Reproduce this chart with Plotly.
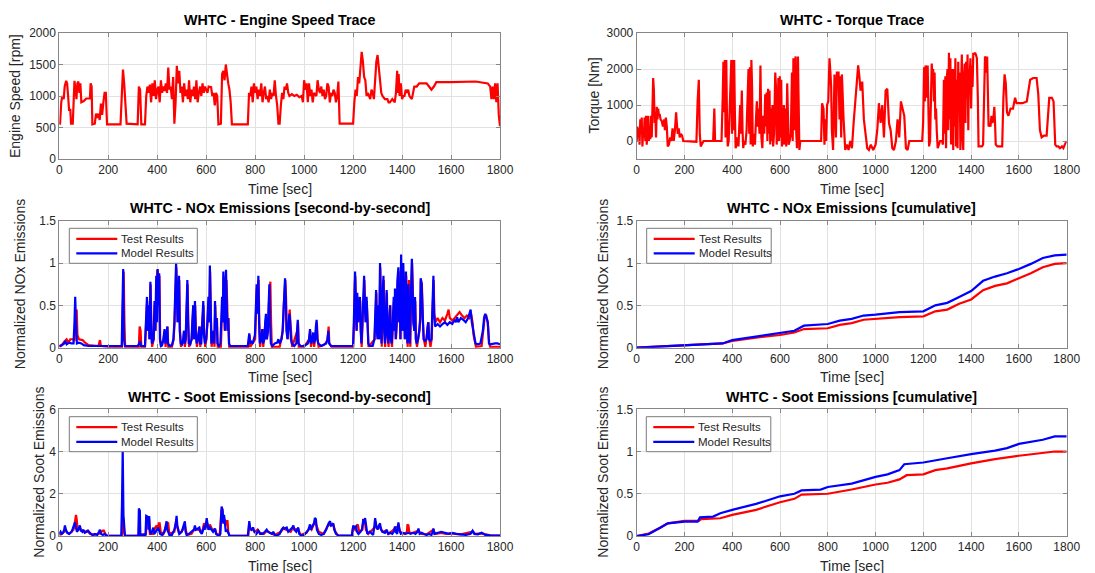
import plotly.graph_objects as go

# ---------------- data ----------------
speed_t = [0, 3, 8, 12, 18, 22, 28, 32, 36, 40, 45, 48, 55, 58, 62, 66, 70, 74, 78, 82,
           86, 90, 100, 110, 125, 128, 132, 135, 145, 150, 155, 160, 165, 170, 175, 180, 185, 190, 195, 250,
           255, 260, 265, 270, 275, 320, 325, 330, 335, 350, 355, 360, 365, 370, 375, 380, 385, 390, 395, 400,
           405, 410, 415, 420, 425, 430, 435, 440, 445, 450, 455, 460, 465, 470, 475, 480, 485, 490, 495, 500,
           505, 510, 515, 520, 525, 530, 535, 540, 545, 550, 555, 560, 565, 570, 575, 580, 585, 590, 595, 600,
           605, 610, 620, 625, 630, 635, 640, 645, 650, 660, 665, 670, 675, 680, 685, 690, 695, 700, 705, 770,
           775, 780, 785, 790, 795, 800, 805, 810, 815, 820, 825, 830, 835, 840, 845, 850, 855, 860, 865, 870,
           875, 880, 885, 890, 895, 900, 905, 910, 915, 920, 925, 930, 935, 940, 950, 960, 970, 980, 990, 995,
           1000, 1005, 1010, 1015, 1020, 1025, 1030, 1035, 1040, 1050, 1055, 1060, 1065, 1070, 1075, 1080, 1085, 1090, 1095, 1100,
           1105, 1110, 1115, 1120, 1125, 1130, 1135, 1140, 1145, 1200, 1205, 1210, 1215, 1220, 1225, 1230, 1235, 1240, 1245, 1250,
           1255, 1260, 1265, 1270, 1275, 1280, 1285, 1290, 1295, 1300, 1305, 1310, 1315, 1320, 1330, 1340, 1345, 1350, 1360, 1370,
           1375, 1380, 1383, 1386, 1390, 1395, 1400, 1405, 1410, 1415, 1420, 1425, 1430, 1440, 1450, 1460, 1470, 1490, 1500, 1510,
           1520, 1530, 1540, 1600, 1700, 1750, 1760, 1765, 1770, 1775, 1780, 1785, 1790, 1795, 1800]
speed_rpm = [550, 560, 900, 1000, 950, 1150, 1240, 1200, 1000, 780, 780, 560, 560, 900, 1240, 1100, 950, 1200, 1230, 1050,
             1200, 900, 920, 960, 960, 1200, 1150, 550, 560, 720, 650, 720, 620, 880, 700, 900, 1050, 1050, 550, 550,
             900, 1420, 1200, 900, 560, 550, 1150, 1100, 550, 550, 1000, 1150, 1050, 1180, 900, 1200, 1000, 1250, 950, 1100,
             1150, 900, 1250, 1050, 1150, 1080, 1200, 1050, 1450, 1100, 1150, 950, 1300, 560, 900, 1480, 1200, 1400, 1050, 1150,
             900, 1200, 1000, 1100, 950, 1250, 900, 1100, 1000, 1150, 950, 1250, 900, 1050, 1150, 1000, 1200, 1050, 1150, 1100,
             1050, 1150, 1140, 1000, 1050, 850, 1050, 1000, 550, 560, 1350, 1400, 1250, 1500, 1300, 1200, 1100, 900, 550, 550,
             1050, 1000, 1150, 900, 1200, 1050, 1150, 950, 1100, 1000, 1200, 900, 1050, 1150, 950, 1000, 900, 1100, 950, 1050,
             1000, 1250, 1000, 850, 560, 560, 850, 1050, 950, 1150, 1100, 1200, 1050, 1000, 1030, 1000, 1020, 980, 1000, 900,
             1250, 1100, 1200, 900, 1200, 1000, 1100, 900, 1050, 1000, 1250, 1100, 1050, 1150, 1000, 1100, 950, 1000, 1200, 1150,
             900, 1050, 1000, 1100, 1050, 900, 1000, 1230, 560, 560, 900, 1100, 1000, 1300, 1200, 1500, 1700, 1550, 1300, 1250,
             1000, 1050, 1000, 950, 1100, 1050, 950, 1300, 1550, 1650, 1400, 1200, 1050, 1000, 950, 950, 900, 900, 950, 900,
             1050, 1400, 1050, 1350, 1000, 1200, 950, 1000, 1000, 1100, 1050, 1100, 1000, 950, 1150, 1150, 1200, 1200, 1200, 1150,
             1100, 1150, 1220, 1220, 1230, 1200, 1150, 950, 1150, 950, 1200, 900, 1200, 700, 520]

torque_t = [0, 3, 6, 9, 12, 15, 18, 21, 24, 27, 30, 33, 36, 39, 42, 45, 48, 51, 54, 57,
            60, 63, 66, 69, 72, 75, 78, 81, 84, 87, 90, 93, 96, 100, 105, 110, 115, 118, 122, 126,
            130, 135, 140, 145, 150, 155, 160, 165, 168, 172, 176, 180, 185, 190, 195, 250, 255, 260, 264, 268,
            272, 280, 320, 325, 328, 355, 360, 363, 366, 369, 372, 375, 378, 381, 385, 390, 393, 396, 399, 402,
            405, 408, 411, 414, 418, 422, 426, 430, 433, 436, 440, 443, 446, 450, 455, 460, 465, 468, 471, 474,
            477, 480, 483, 486, 490, 495, 500, 503, 506, 510, 514, 518, 522, 526, 530, 534, 538, 541, 544, 547,
            550, 553, 556, 559, 562, 565, 568, 571, 575, 580, 583, 586, 590, 593, 596, 599, 602, 605, 608, 612,
            616, 619, 623, 626, 630, 633, 636, 640, 645, 650, 653, 656, 659, 662, 665, 668, 671, 675, 678, 681,
            685, 772, 776, 782, 786, 789, 793, 797, 802, 807, 811, 814, 817, 822, 828, 834, 838, 845, 849, 852,
            856, 859, 866, 873, 880, 887, 894, 901, 908, 915, 922, 927, 932, 937, 944, 951, 958, 965, 972, 980,
            990, 1000, 1007, 1014, 1021, 1028, 1035, 1042, 1049, 1056, 1063, 1070, 1077, 1085, 1092, 1099, 1106, 1113, 1120, 1127,
            1134, 1141, 1195, 1199, 1203, 1206, 1209, 1212, 1215, 1218, 1221, 1224, 1228, 1232, 1235, 1238, 1241, 1244, 1247, 1250,
            1253, 1256, 1260, 1265, 1270, 1278, 1282, 1286, 1289, 1292, 1295, 1298, 1301, 1304, 1307, 1310, 1313, 1316, 1319, 1322,
            1325, 1328, 1331, 1334, 1337, 1340, 1343, 1346, 1349, 1352, 1355, 1358, 1361, 1364, 1367, 1370, 1373, 1376, 1379, 1382,
            1385, 1388, 1391, 1394, 1397, 1400, 1403, 1406, 1409, 1412, 1416, 1420, 1424, 1428, 1431, 1436, 1445, 1450, 1455, 1458,
            1461, 1464, 1467, 1470, 1473, 1477, 1481, 1485, 1489, 1493, 1497, 1500, 1503, 1510, 1520, 1530, 1535, 1540, 1545, 1550,
            1556, 1565, 1575, 1584, 1590, 1600, 1615, 1633, 1640, 1647, 1660, 1674, 1681, 1688, 1695, 1705, 1716, 1723, 1727, 1738,
            1745, 1752, 1758, 1765, 1772, 1780, 1786, 1792, 1800]
torque_nm = [0, 400, 100, 350, -100, 600, 200, 650, -150, 300, 100, 650, 0, 700, -100, 200, 700, 0, 400, 50,
             700, 100, 800, 1750, 1400, 500, 800, 100, 950, 600, 900, 700, 750, 600, 550, 400, 600, 300, 650, 400,
             -150, -100, 100, 0, 350, 0, 300, 800, 500, 200, 350, 100, 200, 150, 0, -20, 1100, 1700, 200, -150,
             -100, 0, 0, 900, 0, 0, 1200, 2200, 800, 2250, 100, 2250, 600, -150, 0, 900, 1800, 2250, 200, 2250,
             300, 2250, 800, -200, -100, 100, -150, 900, 1000, 200, 1400, 300, -200, 0, -100, 300, 1300, 2000, 200, 2050,
             -100, 2250, 1500, -150, 200, -100, 700, 1100, 400, 900, 200, 2100, 100, -200, 700, 200, 1300, 400, 1350, 0,
             1450, 200, 1400, -100, 900, 0, 1000, -150, 200, 1900, 1500, -100, 500, 1750, 0, 1800, 100, 1700, -150, 0,
             1000, -100, 900, -150, 1600, 100, -100, 0, 200, 1900, 0, 2300, 300, 1900, 2350, 200, -200, 2350, 400, -250,
             0, 0, 1050, 900, -100, 600, 0, 1000, 1100, 2300, 1900, 1500, 300, -250, 1850, 100, 1900, 1900, 600, 1800,
             100, 1850, 600, -250, -100, -250, 0, -200, 500, 1200, 1900, 2100, 1800, 1400, 1650, 600, 200, -200, -250, -100,
             -250, -100, 300, 1050, 500, 1000, 100, 1400, 1450, 500, 300, -200, -250, 0, 600, 100, 1100, 900, 700, -200,
             -250, 0, 0, 500, 2050, 1100, 2100, 1900, 1200, 2100, 400, -150, 0, 1000, 2150, 1800, 2000, 1100, 1900, 600,
             900, 300, -200, -100, 0, 0, -100, 1700, 200, 1800, -200, 1700, 2000, 300, 2450, 600, 2300, -100, 2000, 1200,
             -250, 2000, 400, 2300, -150, 1700, -200, 2200, 800, 1900, -250, 1500, 2400, 100, -250, 1800, 2150, 500, 2200, 1200,
             2400, 300, 2000, 1800, 2300, 900, 2100, 1500, 2450, 2400, 2450, 2400, 2300, 1200, -150, -150, -150, -100, 1500, 2350,
             2300, 1900, 2350, 1200, 400, 500, 400, 700, 500, 600, 950, 500, -100, -150, -150, -150, 1200, 1850, 1600, 800,
             700, 900, 900, 1200, 1050, 1050, 1050, 1100, 1400, 1700, 1750, 1750, 1300, 300, 100, 150, 150, 700, 1200, 1200,
             1100, -100, -150, -150, -200, -150, -200, -100, 0]

nox_test_t = [0, 10, 20, 30, 38, 45, 55, 62, 67, 71, 74, 80, 95, 105, 120, 160, 166, 170, 200, 256,
              260, 263, 266, 269, 325, 328, 332, 335, 350, 355, 359, 362, 366, 369, 373, 376, 379, 386, 390, 393,
              397, 400, 403, 409, 412, 416, 426, 431, 434, 438, 442, 445, 460, 467, 471, 474, 478, 481, 484, 487,
              490, 493, 497, 507, 510, 513, 517, 521, 524, 527, 530, 541, 545, 548, 551, 555, 558, 562, 567, 570,
              573, 576, 585, 589, 592, 596, 601, 606, 610, 613, 616, 619, 622, 631, 634, 637, 640, 644, 647, 660,
              663, 666, 669, 671, 674, 677, 680, 683, 686, 688, 691, 694, 772, 777, 780, 800, 803, 807, 810, 814,
              817, 820, 830, 833, 842, 845, 848, 853, 856, 859, 862, 865, 868, 900, 913, 917, 920, 923, 926, 929,
              933, 937, 941, 944, 947, 951, 972, 975, 978, 1000, 1021, 1025, 1028, 1038, 1041, 1049, 1052, 1055, 1059, 1080,
              1090, 1096, 1100, 1103, 1112, 1200, 1204, 1207, 1209, 1212, 1215, 1218, 1221, 1225, 1229, 1232, 1235, 1239, 1242, 1246,
              1249, 1252, 1256, 1259, 1263, 1288, 1292, 1295, 1298, 1301, 1304, 1307, 1311, 1314, 1317, 1321, 1325, 1328, 1331, 1335,
              1338, 1341, 1345, 1348, 1352, 1355, 1359, 1363, 1367, 1370, 1372, 1375, 1379, 1382, 1386, 1389, 1392, 1394, 1397, 1400,
              1403, 1406, 1409, 1412, 1415, 1417, 1420, 1423, 1425, 1428, 1431, 1434, 1437, 1441, 1444, 1447, 1451, 1454, 1457, 1461,
              1471, 1475, 1477, 1481, 1485, 1489, 1495, 1505, 1508, 1511, 1516, 1521, 1525, 1529, 1532, 1536, 1545, 1555, 1565, 1575,
              1585, 1590, 1595, 1605, 1615, 1625, 1635, 1645, 1655, 1665, 1675, 1682, 1688, 1692, 1697, 1702, 1725, 1732, 1738, 1744,
              1750, 1756, 1760, 1800]
nox_test = [0.01, 0.03, 0.07, 0.10, 0.06, 0.10, 0.10, 0.08, 0.25, 0.45, 0.15, 0.10, 0.09, 0.06, 0.03, 0.02, 0.09, 0.02, 0.01, 0.01,
            0.50, 0.90, 0.30, 0.01, 0.01, 0.25, 0.20, 0.01, 0.01, 0.30, 0.55, 0.20, 0.50, 0.10, 0.75, 0.30, 0.01, 0.10, 0.50, 0.20,
            0.85, 0.92, 0.50, 0.85, 0.10, 0.01, 0.10, 0.20, 0.01, 0.10, 0.25, 0.01, 0.01, 0.10, 0.30, 0.62, 0.95, 0.60, 0.30, 0.50,
            0.80, 0.20, 0.01, 0.10, 0.20, 0.01, 0.10, 0.50, 0.75, 0.30, 0.01, 0.10, 0.35, 0.50, 0.10, 0.50, 0.20, 0.01, 0.10, 0.20,
            0.25, 0.01, 0.30, 0.50, 0.15, 0.01, 0.10, 0.30, 0.55, 0.30, 0.90, 0.40, 0.01, 0.20, 0.01, 0.50, 0.20, 0.35, 0.01, 0.01,
            0.40, 0.55, 0.30, 0.85, 0.50, 0.20, 0.70, 0.80, 0.50, 0.20, 0.35, 0.01, 0.01, 0.15, 0.01, 0.10, 0.40, 0.70, 0.40, 0.80,
            0.30, 0.01, 0.22, 0.01, 0.30, 0.35, 0.10, 0.20, 0.50, 0.78, 0.78, 0.30, 0.01, 0.01, 0.20, 0.50, 0.70, 0.80, 0.60, 0.20,
            0.10, 0.30, 0.45, 0.30, 0.10, 0.01, 0.20, 0.30, 0.01, 0.01, 0.10, 0.20, 0.01, 0.15, 0.01, 0.25, 0.30, 0.10, 0.01, 0.03,
            0.06, 0.10, 0.25, 0.05, 0.01, 0.01, 0.30, 0.75, 0.85, 0.50, 0.20, 0.60, 0.30, 0.50, 0.55, 0.20, 0.01, 0.30, 0.65, 0.80,
            0.50, 0.30, 0.55, 0.20, 0.01, 0.10, 0.40, 0.65, 0.20, 0.10, 0.45, 0.10, 0.95, 0.30, 0.01, 0.60, 0.80, 0.20, 0.01, 0.40,
            0.65, 0.15, 0.01, 0.30, 0.50, 0.10, 0.01, 0.30, 0.55, 0.20, 0.65, 0.10, 0.30, 0.75, 0.90, 0.30, 0.55, 0.10, 1.00, 0.40,
            0.20, 0.90, 0.30, 0.10, 0.60, 0.85, 0.20, 0.01, 0.50, 0.80, 0.20, 0.01, 0.60, 1.00, 0.70, 0.30, 0.20, 0.55, 0.10, 0.01,
            0.20, 0.35, 0.80, 0.75, 0.30, 0.10, 0.01, 0.25, 0.30, 0.10, 0.01, 0.10, 0.50, 0.80, 0.40, 0.30, 0.35, 0.30, 0.35, 0.32,
            0.40, 0.45, 0.35, 0.32, 0.35, 0.38, 0.42, 0.38, 0.35, 0.38, 0.35, 0.40, 0.30, 0.15, 0.05, 0.01, 0.02, 0.25, 0.38, 0.38,
            0.30, 0.05, 0.01, 0.01]

nox_model_t = [0, 10, 20, 25, 30, 40, 50, 58, 62, 65, 68, 72, 80, 90, 100, 120, 200, 255, 258, 261,
               264, 268, 320, 327, 330, 334, 350, 354, 358, 361, 365, 368, 372, 375, 378, 385, 389, 392, 396, 399,
               402, 405, 408, 411, 415, 420, 425, 430, 433, 437, 441, 444, 450, 460, 466, 470, 474, 477, 480, 483,
               486, 489, 492, 496, 502, 506, 509, 512, 516, 520, 523, 526, 529, 535, 540, 544, 547, 550, 554, 557,
               561, 566, 569, 572, 575, 580, 584, 588, 591, 595, 600, 605, 609, 612, 615, 618, 621, 626, 630, 633,
               636, 639, 643, 646, 652, 658, 662, 665, 668, 670, 673, 676, 679, 681, 684, 687, 690, 693, 698, 770,
               773, 776, 779, 785, 790, 795, 799, 802, 806, 809, 813, 816, 819, 825, 829, 832, 838, 841, 844, 847,
               852, 855, 858, 861, 864, 870, 880, 890, 895, 900, 908, 912, 916, 919, 922, 925, 928, 932, 936, 940,
               943, 946, 950, 960, 968, 971, 974, 977, 985, 995, 1005, 1015, 1020, 1024, 1027, 1033, 1037, 1040, 1045, 1048,
               1051, 1054, 1058, 1070, 1080, 1090, 1095, 1099, 1102, 1110, 1160, 1200, 1203, 1206, 1208, 1211, 1214, 1217, 1220, 1224,
               1228, 1231, 1234, 1238, 1241, 1245, 1248, 1251, 1255, 1258, 1262, 1268, 1280, 1287, 1291, 1294, 1297, 1300, 1303, 1306,
               1310, 1313, 1316, 1320, 1324, 1327, 1330, 1334, 1337, 1340, 1344, 1347, 1351, 1354, 1358, 1362, 1366, 1369, 1371, 1374,
               1378, 1381, 1385, 1388, 1391, 1393, 1396, 1399, 1402, 1405, 1408, 1411, 1414, 1416, 1419, 1422, 1424, 1426, 1429, 1432,
               1436, 1440, 1443, 1446, 1450, 1453, 1456, 1460, 1465, 1470, 1474, 1476, 1480, 1484, 1488, 1494, 1500, 1504, 1507, 1510,
               1515, 1520, 1524, 1528, 1531, 1535, 1545, 1555, 1565, 1575, 1585, 1595, 1605, 1615, 1620, 1625, 1630, 1640, 1650, 1660,
               1670, 1680, 1685, 1690, 1695, 1700, 1710, 1720, 1730, 1735, 1740, 1745, 1750, 1755, 1760, 1780, 1790, 1800]
nox_model = [0.02, 0.03, 0.05, 0.08, 0.04, 0.06, 0.05, 0.05, 0.30, 0.60, 0.30, 0.05, 0.06, 0.05, 0.03, 0.02, 0.02, 0.02, 0.50, 0.93,
             0.10, 0.02, 0.02, 0.05, 0.08, 0.02, 0.02, 0.30, 0.60, 0.20, 0.50, 0.10, 0.78, 0.30, 0.05, 0.10, 0.55, 0.20, 0.85, 0.30,
             0.93, 0.50, 0.88, 0.10, 0.02, 0.03, 0.10, 0.22, 0.05, 0.10, 0.25, 0.05, 0.02, 0.03, 0.10, 0.30, 0.60, 1.00, 0.70, 0.30,
             0.50, 0.85, 0.20, 0.05, 0.04, 0.10, 0.20, 0.05, 0.10, 0.50, 0.80, 0.30, 0.05, 0.04, 0.10, 0.35, 0.50, 0.10, 0.55, 0.20,
             0.05, 0.10, 0.20, 0.25, 0.05, 0.05, 0.30, 0.55, 0.15, 0.05, 0.10, 0.30, 0.60, 0.30, 0.97, 0.40, 0.05, 0.10, 0.20, 0.05,
             0.55, 0.20, 0.35, 0.05, 0.02, 0.05, 0.40, 0.60, 0.30, 0.90, 0.50, 0.20, 0.70, 0.92, 0.50, 0.20, 0.35, 0.05, 0.02, 0.02,
             0.10, 0.17, 0.05, 0.07, 0.05, 0.10, 0.15, 0.40, 0.75, 0.40, 0.85, 0.30, 0.05, 0.10, 0.22, 0.05, 0.10, 0.30, 0.40, 0.10,
             0.20, 0.50, 0.75, 0.30, 0.05, 0.02, 0.05, 0.06, 0.10, 0.05, 0.10, 0.20, 0.50, 0.70, 0.82, 0.60, 0.20, 0.10, 0.30, 0.40,
             0.30, 0.10, 0.05, 0.02, 0.05, 0.20, 0.33, 0.05, 0.02, 0.02, 0.03, 0.05, 0.10, 0.22, 0.05, 0.10, 0.18, 0.05, 0.10, 0.25,
             0.33, 0.10, 0.05, 0.02, 0.04, 0.05, 0.10, 0.20, 0.05, 0.02, 0.02, 0.02, 0.30, 0.80, 0.90, 0.50, 0.20, 0.65, 0.30, 0.50,
             0.60, 0.20, 0.05, 0.30, 0.70, 0.85, 0.50, 0.30, 0.60, 0.20, 0.05, 0.02, 0.02, 0.10, 0.40, 0.68, 0.20, 0.10, 0.50, 0.10,
             1.00, 0.30, 0.05, 0.60, 0.85, 0.20, 0.05, 0.40, 0.68, 0.15, 0.05, 0.30, 0.50, 0.10, 0.05, 0.30, 0.60, 0.20, 0.70, 0.10,
             0.30, 0.80, 0.95, 0.30, 0.60, 0.10, 1.10, 0.40, 0.20, 1.00, 0.30, 0.10, 0.60, 0.90, 0.20, 0.05, 0.50, 0.75, 0.20, 0.05,
             0.60, 1.05, 0.70, 0.30, 0.20, 0.60, 0.10, 0.05, 0.10, 0.20, 0.35, 0.82, 0.75, 0.30, 0.10, 0.08, 0.10, 0.25, 0.30, 0.10,
             0.08, 0.10, 0.50, 0.85, 0.40, 0.25, 0.28, 0.25, 0.28, 0.30, 0.27, 0.30, 0.28, 0.33, 0.30, 0.36, 0.30, 0.35, 0.33, 0.30,
             0.35, 0.45, 0.30, 0.20, 0.10, 0.05, 0.04, 0.05, 0.20, 0.35, 0.40, 0.35, 0.30, 0.05, 0.04, 0.05, 0.05, 0.04]

soot_test_t = [0, 10, 20, 25, 30, 40, 50, 58, 62, 66, 68, 71, 75, 85, 95, 105, 115, 125, 140, 160,
               170, 176, 182, 188, 195, 255, 259, 262, 265, 268, 324, 327, 330, 354, 357, 363, 367, 370, 385, 392,
               398, 402, 406, 410, 414, 425, 437, 441, 445, 449, 470, 478, 482, 490, 505, 512, 516, 522, 540, 553,
               560, 570, 578, 586, 591, 595, 600, 605, 610, 615, 620, 625, 637, 642, 655, 662, 666, 670, 675, 680,
               683, 687, 690, 695, 772, 776, 780, 790, 800, 810, 820, 835, 848, 860, 880, 905, 915, 925, 935, 945,
               955, 965, 975, 985, 1010, 1022, 1030, 1040, 1045, 1050, 1060, 1080, 1095, 1105, 1112, 1120, 1128, 1140, 1196, 1200,
               1208, 1215, 1219, 1225, 1238, 1242, 1248, 1252, 1262, 1288, 1292, 1296, 1305, 1312, 1320, 1335, 1345, 1370, 1386, 1392,
               1410, 1420, 1422, 1426, 1430, 1445, 1465, 1480, 1500, 1528, 1535, 1560, 1580, 1600, 1640, 1688, 1700, 1725, 1760, 1800]
soot_test = [0.05, 0.10, 0.20, 0.30, 0.20, 0.10, 0.20, 0.30, 0.50, 0.80, 1.00, 0.80, 0.30, 0.35, 0.25, 0.20, 0.25, 0.10, 0.05, 0.10,
             0.15, 0.25, 0.25, 0.10, 0.01, 0.01, 0.50, 0.80, 0.20, 0.01, 0.01, 1.20, 0.05, 0.10, 0.85, 0.85, 0.80, 0.10, 0.10, 0.40,
             0.50, 0.30, 0.60, 0.60, 0.20, 0.10, 0.50, 0.65, 0.60, 0.10, 0.20, 0.80, 0.40, 0.10, 0.30, 0.60, 0.30, 0.05, 0.10, 0.35,
             0.30, 0.30, 0.20, 0.30, 0.60, 0.55, 0.45, 0.50, 0.30, 0.55, 0.40, 0.30, 0.30, 0.10, 0.05, 1.20, 1.30, 0.60, 0.80, 0.50,
             0.70, 0.70, 0.20, 0.01, 0.01, 0.60, 0.30, 0.30, 0.20, 0.30, 0.15, 0.10, 0.25, 0.15, 0.05, 0.20, 0.35, 0.30, 0.25, 0.20,
             0.40, 0.30, 0.35, 0.05, 0.15, 0.40, 0.30, 0.60, 0.70, 0.50, 0.20, 0.10, 0.45, 0.55, 0.50, 0.50, 0.20, 0.01, 0.01, 0.40,
             0.30, 0.50, 0.55, 0.20, 0.30, 0.75, 0.70, 0.30, 0.10, 0.40, 0.70, 0.40, 0.40, 0.40, 0.20, 0.25, 0.10, 0.35, 0.50, 0.20,
             0.10, 0.20, 0.55, 0.50, 0.15, 0.15, 0.25, 0.10, 0.08, 0.30, 0.10, 0.15, 0.10, 0.12, 0.08, 0.20, 0.10, 0.12, 0.03, 0.02]

soot_model_t = [0, 5, 10, 15, 20, 23, 27, 32, 40, 50, 55, 60, 64, 68, 72, 78, 84, 88, 94, 98,
                104, 112, 118, 125, 135, 145, 155, 162, 166, 170, 178, 185, 192, 200, 253, 256, 259, 262, 265, 268,
                323, 325, 329, 331, 352, 355, 362, 364, 367, 370, 375, 380, 384, 388, 395, 400, 404, 408, 412, 420,
                430, 435, 438, 441, 445, 450, 460, 470, 476, 479, 482, 486, 490, 500, 505, 510, 513, 516, 520, 530,
                540, 550, 554, 558, 565, 572, 576, 582, 588, 592, 596, 602, 605, 610, 615, 620, 628, 636, 640, 646,
                652, 658, 661, 663, 667, 670, 673, 676, 680, 685, 690, 695, 770, 773, 776, 779, 785, 792, 796, 805,
                813, 820, 830, 840, 847, 852, 860, 868, 874, 880, 890, 900, 908, 915, 920, 929, 935, 945, 952, 956,
                960, 968, 976, 980, 990, 1000, 1010, 1018, 1024, 1028, 1035, 1040, 1044, 1048, 1052, 1060, 1070, 1080, 1090, 1095,
                1100, 1106, 1110, 1115, 1119, 1123, 1130, 1140, 1195, 1198, 1201, 1206, 1212, 1216, 1222, 1230, 1236, 1242, 1245, 1249,
                1253, 1258, 1268, 1275, 1282, 1287, 1290, 1294, 1300, 1306, 1310, 1314, 1320, 1330, 1337, 1343, 1350, 1360, 1366, 1371,
                1375, 1380, 1385, 1389, 1395, 1405, 1415, 1425, 1435, 1445, 1455, 1463, 1467, 1472, 1480, 1490, 1500, 1510, 1520, 1525,
                1528, 1532, 1545, 1560, 1575, 1590, 1605, 1620, 1640, 1660, 1680, 1688, 1695, 1710, 1725, 1740, 1760, 1780, 1800]
soot_model = [0.10, 0.20, 0.10, 0.15, 0.30, 0.50, 0.30, 0.15, 0.10, 0.20, 0.35, 0.50, 0.65, 0.40, 0.20, 0.30, 0.50, 0.25, 0.20, 0.30,
              0.15, 0.20, 0.25, 0.15, 0.05, 0.10, 0.05, 0.20, 0.30, 0.10, 0.05, 0.10, 0.02, 0.01, 0.01, 1.50, 4.10, 1.00, 0.10, 0.01,
              0.01, 1.30, 1.20, 0.05, 0.05, 0.95, 0.90, 0.30, 0.95, 0.20, 0.10, 0.30, 0.40, 0.10, 0.20, 0.30, 0.40, 0.20, 0.10, 0.05,
              0.20, 0.50, 0.70, 0.30, 0.20, 0.05, 0.05, 0.30, 0.60, 0.95, 0.50, 0.30, 0.10, 0.20, 0.40, 0.50, 0.70, 0.20, 0.05, 0.10,
              0.20, 0.30, 0.50, 0.30, 0.35, 0.40, 0.20, 0.10, 0.30, 0.50, 0.30, 0.85, 0.60, 0.30, 0.40, 0.30, 0.20, 0.35, 0.10, 0.05,
              0.02, 0.10, 1.00, 1.40, 1.20, 0.60, 1.00, 0.40, 0.20, 0.30, 0.10, 0.02, 0.01, 0.50, 0.70, 0.40, 0.30, 0.40, 0.20, 0.10,
              0.25, 0.10, 0.10, 0.20, 0.30, 0.20, 0.15, 0.10, 0.20, 0.05, 0.02, 0.10, 0.30, 0.40, 0.35, 0.40, 0.20, 0.30, 0.40, 0.50,
              0.30, 0.20, 0.40, 0.10, 0.02, 0.05, 0.20, 0.30, 0.55, 0.30, 0.50, 0.60, 0.85, 0.80, 0.30, 0.10, 0.05, 0.10, 0.30, 0.50,
              0.60, 0.70, 0.50, 0.55, 0.60, 0.30, 0.10, 0.02, 0.02, 0.30, 0.50, 0.40, 0.45, 0.20, 0.10, 0.20, 0.30, 0.80, 0.60, 0.85,
              0.40, 0.10, 0.20, 0.10, 0.05, 0.50, 0.85, 0.50, 0.30, 0.50, 0.60, 0.30, 0.20, 0.15, 0.30, 0.10, 0.15, 0.10, 0.20, 0.45,
              0.20, 0.10, 0.65, 0.30, 0.10, 0.15, 0.10, 0.15, 0.10, 0.15, 0.10, 0.20, 0.35, 0.10, 0.15, 0.10, 0.05, 0.10, 0.05, 0.20,
              0.35, 0.10, 0.15, 0.20, 0.15, 0.10, 0.15, 0.10, 0.08, 0.05, 0.10, 0.25, 0.10, 0.08, 0.15, 0.05, 0.03, 0.04, 0.02]

cum_nox_t = [0, 200, 360, 400, 500, 600, 660, 700, 800, 850, 900, 950, 1000, 1100, 1200,
             1250, 1300, 1350, 1400, 1450, 1500, 1550, 1600, 1650, 1700, 1750, 1800]
cum_nox_test = [0, 0.03, 0.05, 0.08, 0.12, 0.15, 0.18, 0.22, 0.23, 0.27, 0.29, 0.33, 0.34, 0.36, 0.37,
                0.43, 0.45, 0.52, 0.57, 0.68, 0.73, 0.76, 0.82, 0.88, 0.95, 0.99, 1.00]
cum_nox_model = [0, 0.03, 0.05, 0.09, 0.13, 0.17, 0.20, 0.26, 0.28, 0.32, 0.34, 0.38, 0.39, 0.42, 0.43,
                 0.50, 0.53, 0.60, 0.67, 0.79, 0.84, 0.88, 0.93, 0.99, 1.06, 1.09, 1.10]

cum_soot_t_test = [0, 50, 100, 130, 200, 260, 270, 350, 400, 500, 600, 660, 690, 800, 900,
                   1000, 1050, 1100, 1130, 1200, 1250, 1300, 1400, 1500, 1600, 1700, 1750, 1800]
cum_soot_test = [0, 0.03, 0.10, 0.15, 0.18, 0.18, 0.20, 0.21, 0.25, 0.31, 0.40, 0.44, 0.49, 0.50, 0.55,
                 0.61, 0.63, 0.67, 0.72, 0.73, 0.78, 0.80, 0.86, 0.91, 0.95, 0.98, 1.00, 1.00]
cum_soot_t_model = [0, 50, 100, 130, 200, 255, 265, 320, 350, 400, 500, 600, 660, 690, 770, 800,
                    900, 1000, 1050, 1080, 1100, 1120, 1200, 1300, 1400, 1500, 1550, 1600, 1700, 1750, 1800]
cum_soot_model = [0, 0.02, 0.10, 0.15, 0.17, 0.17, 0.22, 0.23, 0.27, 0.31, 0.38, 0.47, 0.50, 0.54, 0.55, 0.58,
                  0.62, 0.70, 0.73, 0.76, 0.78, 0.85, 0.87, 0.92, 0.97, 1.01, 1.04, 1.09, 1.14, 1.18, 1.18]

time_ticks = list(range(0, 1801, 200))
series_names = ["Test Results", "Model Results"]

# ---------------- layout helpers ----------------
W, H = 1095, 573
FONT = "Liberation Sans, Arial, Helvetica, sans-serif"
TXT = "#262626"
RED, BLUE = "#ff0000", "#0000ff"
LW = 2.2

# panel frames in pixels: left, top, right, bottom
frames = [
    (59.3, 33.0, 500.0, 159.0),     # engine speed
    (636.7, 33.0, 1066.7, 159.0),   # torque
    (59.3, 220.7, 500.0, 347.7),    # NOx second-by-second
    (636.7, 220.7, 1066.7, 347.7),  # NOx cumulative
    (59.3, 409.3, 500.0, 536.0),    # soot second-by-second
    (636.7, 409.3, 1066.7, 536.0),  # soot cumulative
]
titles = ["WHTC - Engine Speed Trace", "WHTC - Torque Trace",
          "WHTC - NOx Emissions [second-by-second]", "WHTC - NOx Emissions [cumulative]",
          "WHTC - Soot Emissions [second-by-second]", "WHTC - Soot Emissions [cumulative]"]
ylabels = ["Engine Speed [rpm]", "Torque [Nm]", "Normalized NOx Emissions", "Normalized NOx Emissions",
           "Normalized Soot Emissions", "Normalized Soot Emissions"]
ylabel_x = [15, 593.5, 20, 603, 39, 603]
yranges = [(0, 2000), (-500, 3000), (0, 1.5), (0, 1.5), (0, 6), (0, 1.5)]
yticks = [[0, 500, 1000, 1500, 2000], [0, 1000, 2000, 3000], [0, 0.5, 1, 1.5], [0, 0.5, 1, 1.5],
          [0, 2, 4, 6], [0, 0.5, 1, 1.5]]
# legend boxes (left, top, width) for the emission panels
legend_boxes = [(69.3, 228.3, 128), (646.7, 228.3, 124.5), (69.3, 416.7, 128), (646.3, 416.7, 124.5)]


def px_x(x):
    return x / W


def px_y(y):
    return 1 - y / H


fig = go.Figure()
annotations, shapes = [], []

axis_common = dict(showline=True, mirror="ticks", linecolor="#868686", linewidth=1,
                   showgrid=True, gridcolor="#e2e2e2", gridwidth=1, zeroline=False,
                   ticks="inside", ticklen=4, tickcolor="#868686", automargin=False,
                   tickfont=dict(family=FONT, size=12, color=TXT))
layout = dict(width=W, height=H, margin=dict(l=0, r=0, t=0, b=0, pad=0, autoexpand=False),
              template="none", paper_bgcolor="white", plot_bgcolor="white",
              font=dict(family=FONT, size=12, color=TXT), showlegend=False)

for i, (l, t, r, b) in enumerate(frames):
    n = "" if i == 0 else str(i + 1)
    layout["xaxis" + n] = dict(axis_common, domain=[px_x(l), px_x(r)], range=[0, 1800],
                               tickvals=time_ticks, anchor="y" + n)
    layout["yaxis" + n] = dict(axis_common, domain=[px_y(b), px_y(t)], range=list(yranges[i]),
                               tickvals=yticks[i], anchor="x" + n)
    cx = (l + r) / 2
    annotations += [
        dict(text="<b>" + titles[i] + "</b>", x=px_x(cx), y=px_y(t - 12.5), xref="paper", yref="paper",
             xanchor="center", yanchor="middle", showarrow=False,
             font=dict(family=FONT, size=14.3, color="#000000")),
        dict(text="Time [sec]", x=px_x(cx), y=px_y(b + 29.5), xref="paper", yref="paper",
             xanchor="center", yanchor="middle", showarrow=False,
             font=dict(family=FONT, size=14, color=TXT)),
        dict(text=ylabels[i], x=px_x(ylabel_x[i]), y=px_y((t + b) / 2), xref="paper", yref="paper",
             xanchor="center", yanchor="middle", textangle=-90, showarrow=False,
             font=dict(family=FONT, size=14, color=TXT)),
    ]

# boxed legends in the upper-left corner of each emission panel
for (lx, ly, lw) in legend_boxes:
    shapes.append(dict(type="rect", xref="paper", yref="paper", x0=px_x(lx), x1=px_x(lx + lw),
                       y0=px_y(ly + 35), y1=px_y(ly), fillcolor="white",
                       line=dict(color="#7a7a7a", width=1), layer="above"))
    for k, (name, col) in enumerate(zip(series_names, [RED, BLUE])):
        yy = ly + 10.5 + 14.6 * k
        shapes.append(dict(type="line", xref="paper", yref="paper", x0=px_x(lx + 7), x1=px_x(lx + 48),
                           y0=px_y(yy), y1=px_y(yy), line=dict(color=col, width=LW), layer="above"))
        annotations.append(dict(text=name, x=px_x(lx + 50), y=px_y(yy), xref="paper", yref="paper",
                                xanchor="left", yanchor="middle", showarrow=False,
                                font=dict(family=FONT, size=11.5, color=TXT)))

layout["annotations"] = annotations
layout["shapes"] = shapes
fig.update_layout(**layout)

fig.add_trace(go.Scatter(x=speed_t, y=speed_rpm, mode="lines", line=dict(color=RED, width=LW),
                         name="Engine Speed", xaxis="x", yaxis="y"))
fig.add_trace(go.Scatter(x=torque_t, y=torque_nm, mode="lines", line=dict(color=RED, width=LW),
                         name="Torque", xaxis="x2", yaxis="y2"))

series = [
    ("x3", "y3", nox_test_t, nox_test, nox_model_t, nox_model),
    ("x4", "y4", cum_nox_t, cum_nox_test, cum_nox_t, cum_nox_model),
    ("x5", "y5", soot_test_t, soot_test, soot_model_t, soot_model),
    ("x6", "y6", cum_soot_t_test, cum_soot_test, cum_soot_t_model, cum_soot_model),
]
for xa, ya, tt, tv, mt, mv in series:
    assert len(tt) == len(tv) and len(mt) == len(mv)
    fig.add_trace(go.Scatter(x=tt, y=tv, mode="lines", name=series_names[0],
                             line=dict(color=RED, width=LW), xaxis=xa, yaxis=ya))
    fig.add_trace(go.Scatter(x=mt, y=mv, mode="lines", name=series_names[1],
                             line=dict(color=BLUE, width=LW), xaxis=xa, yaxis=ya))

fig.write_html("out.html")
